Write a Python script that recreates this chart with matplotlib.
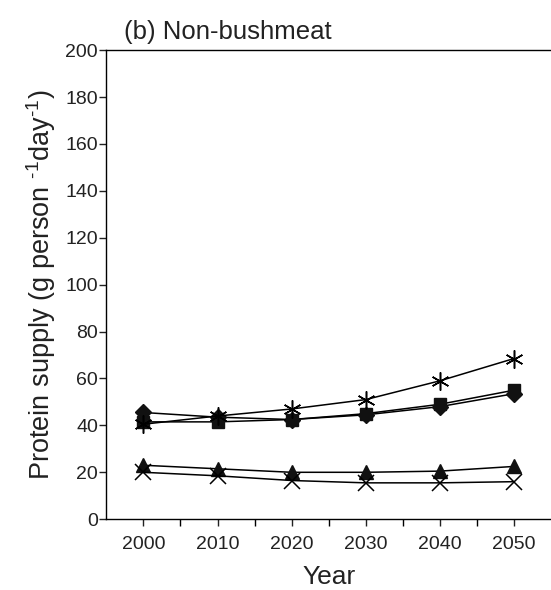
import matplotlib
matplotlib.use("Agg")
import matplotlib.pyplot as plt
from matplotlib.ticker import MultipleLocator

plt.rcParams['font.family'] = ['Liberation Sans', 'DejaVu Sans']
plt.rcParams['mathtext.default'] = 'regular'

years = [2000, 2010, 2020, 2030, 2040, 2050]

# protein supply per scenario (g person-1 day-1)
diamond = [45.5, 43.5, 42.5, 44.5, 48.0, 53.5]
square = [41.5, 41.5, 42.5, 45.0, 49.0, 55.0]
asterisk = [40.5, 44.0, 47.0, 51.0, 59.0, 68.5]
triangle = [23.0, 21.5, 20.0, 20.0, 20.5, 22.5]
cross = [20.0, 18.5, 16.5, 15.5, 15.5, 16.0]

fig = plt.figure(figsize=(5.51, 5.90), dpi=100)
ax = fig.add_axes([0.193, 0.12, 0.807, 0.795])

lw = 1.1
ax.plot(years, diamond, color='black', lw=lw, marker='D', ms=8, mfc='#111111', mec='#111111')
ax.plot(years, square, color='black', lw=lw, marker='s', ms=9, mfc='#111111', mec='#111111')
ax.plot(years, asterisk, color='black', lw=lw, marker=(6, 2, 0), ms=13, mew=1.1)
ax.plot(years, triangle, color='black', lw=lw, marker='^', ms=10, mfc='#111111', mec='#111111')
ax.plot(years, cross, color='black', lw=lw, marker='x', ms=11, mew=1.1)

ax.set_xlim(1995, 2055)
ax.set_ylim(0, 200)
ax.set_xticks(years)
ax.set_xticks([2005, 2015, 2025, 2035, 2045], minor=True)
ax.yaxis.set_major_locator(MultipleLocator(20))

ax.spines['right'].set_visible(False)
for s in ['left', 'bottom', 'top']:
    ax.spines[s].set_linewidth(1.0)

ax.tick_params(axis='both', which='major', direction='out', length=5, width=1.0,
               labelsize=14, colors='#222222')
ax.tick_params(axis='x', which='minor', direction='out', length=5, width=1.0)
ax.tick_params(axis='x', pad=7)
ax.tick_params(axis='y', pad=1)

ax.set_xlabel('Year', fontsize=19, labelpad=9, color='#222222')
ax.set_ylabel('Protein supply (g person $^{\u20101}$day$^{\u20101}$)', fontsize=19.5,
              labelpad=5, color='#222222')
ax.set_title('(b) Non-bushmeat', fontsize=18.5, loc='left', x=0.04, pad=8, color='#222222')

fig.savefig('out.png', dpi=100)
